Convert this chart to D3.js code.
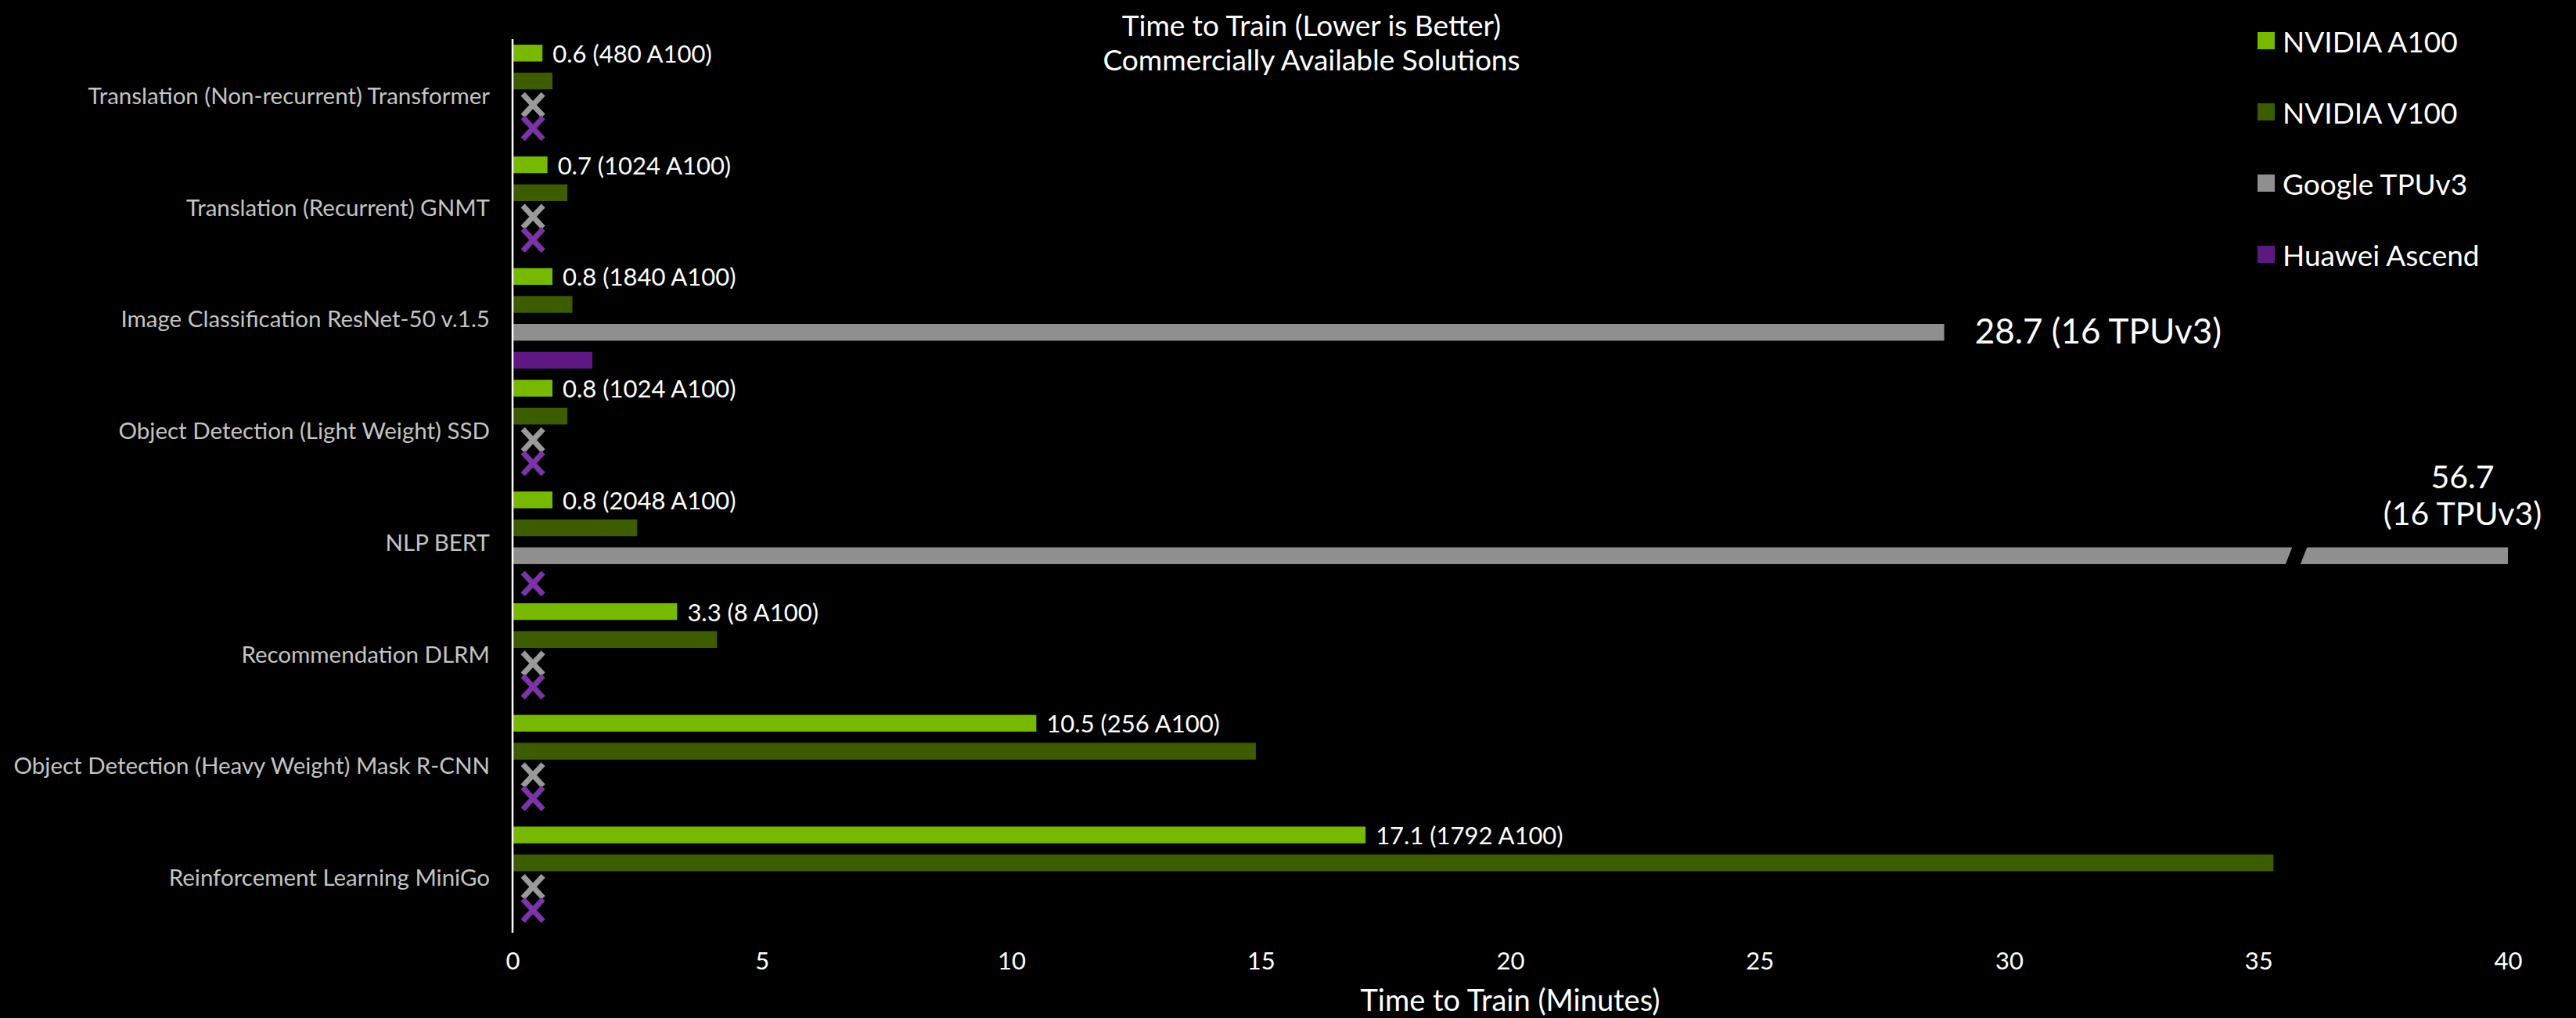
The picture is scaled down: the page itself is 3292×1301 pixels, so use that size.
<!DOCTYPE html>
<html>
<head>
<meta charset="utf-8">
<script src="https://cdn.jsdelivr.net/npm/d3@7"></script>
<style>
  html, body { margin: 0; padding: 0; background: #000; }
  svg { display: block; font-family: Lato, 'Open Sans', sans-serif; }
</style>
</head>
<body>
<svg id="chart"></svg>
<script>
// chart data
const categories = [
  'Translation (Non-recurrent) Transformer',
  'Translation (Recurrent) GNMT',
  'Image Classification ResNet-50 v.1.5',
  'Object Detection (Light Weight) SSD',
  'NLP BERT',
  'Recommendation DLRM',
  'Object Detection (Heavy Weight) Mask R-CNN',
  'Reinforcement Learning MiniGo'
];
const seriesNames = ['NVIDIA A100', 'NVIDIA V100', 'Google TPUv3', 'Huawei Ascend'];
const a100 = [0.6, 0.7, 0.8, 0.8, 0.8, 3.3, 10.5, 17.1];
const a100Chips = [480, 1024, 1840, 1024, 2048, 8, 256, 1792];
const v100 = [0.8, 1.1, 1.2, 1.1, 2.5, 4.1, 14.9, 35.3];
const tpu = [null, null, 28.7, null, 56.7, null, null, null];
const tpuChips = [null, null, 16, null, 16, null, null, null];
const huawei = [null, null, 1.6, null, null, null, null, null];
const xTicks = [0, 5, 10, 15, 20, 25, 30, 35, 40];
const xMax = 40;
const breakAt = 35.75; // where the clipped bar gets its break mark

const colors = {
  'NVIDIA A100': '#76b900',
  'NVIDIA V100': '#3d5c00',
  'Google TPUv3': '#8f8f8f',
  'Huawei Ascend': '#5e1882'
};
const missColors = { 'Google TPUv3': '#9a9a9a', 'Huawei Ascend': '#7b34a8' };

const W = 3292, H = 1301;
const plot = { left: 655, right: 3205, top: 50, bottom: 1192 };

const svg = d3.select('#chart').attr('width', W).attr('height', H);
svg.append('rect').attr('width', W).attr('height', H).attr('fill', '#000');

const x = d3.scaleLinear().domain([0, xMax]).range([plot.left, plot.right]);
const y0 = d3.scaleBand().domain(categories).range([plot.top, plot.bottom]);
const y1 = d3.scaleBand().domain(seriesNames).range([0, y0.bandwidth()])
  .paddingInner(0.4).paddingOuter(0.2);

// flatten into rows
const rows = [];
categories.forEach((c, i) => {
  rows.push({ cat: c, s: 'NVIDIA A100', v: a100[i], label: `${a100[i]} (${a100Chips[i]} A100)` });
  rows.push({ cat: c, s: 'NVIDIA V100', v: v100[i] });
  rows.push({ cat: c, s: 'Google TPUv3', v: tpu[i], label: tpu[i] ? `${tpu[i]} (${tpuChips[i]} TPUv3)` : null, both: tpu[i] == null && huawei[i] == null });
  rows.push({ cat: c, s: 'Huawei Ascend', v: huawei[i], both: tpu[i] == null && huawei[i] == null });
});

const bars = rows.filter(d => d.v != null);
const misses = rows.filter(d => d.v == null);

const barY = d => y0(d.cat) + y1(d.s);

svg.append('g').selectAll('rect')
  .data(bars)
  .enter()
  .append('rect')
  .attr('x', x(0))
  .attr('y', barY)
  .attr('width', d => x(Math.min(d.v, xMax)) - x(0))
  .attr('height', y1.bandwidth())
  .attr('fill', d => colors[d.s]);

// break mark on clipped bars
bars.filter(d => d.v > xMax).forEach(d => {
  const cx = x(breakAt);
  const t = barY(d) - 2, b = barY(d) + y1.bandwidth() + 2;
  svg.append('polygon')
    .attr('points', `${cx - 4},${t} ${cx + 15},${t} ${cx + 5},${b} ${cx - 14},${b}`)
    .attr('fill', '#000');
});

// A100 value labels
svg.append('g').selectAll('text')
  .data(bars.filter(d => d.s === 'NVIDIA A100'))
  .enter()
  .append('text')
  .attr('x', d => x(d.v) + 13)
  .attr('y', d => barY(d) + y1.bandwidth() / 2)
  .attr('dominant-baseline', 'central')
  .attr('fill', '#fff')
  .attr('font-size', 31)
  .text(d => d.label);

// TPU value labels
bars.filter(d => d.s === 'Google TPUv3').forEach(d => {
  if (d.v <= xMax) {
    svg.append('text')
      .attr('x', x(d.v) + 39)
      .attr('y', barY(d) + y1.bandwidth() / 2 - 3)
      .attr('dominant-baseline', 'central')
      .attr('fill', '#fff')
      .attr('font-size', 44)
      .text(d.label);
  } else {
    const [num, rest] = [String(d.v), d.label.slice(String(d.v).length + 1)];
    const t = svg.append('text')
      .attr('x', x(xMax) - 58)
      .attr('y', barY(d) - 76)
      .attr('text-anchor', 'middle')
      .attr('fill', '#fff')
      .attr('font-size', 41);
    t.append('tspan').attr('x', x(xMax) - 58).text(num);
    t.append('tspan').attr('x', x(xMax) - 58).attr('dy', 47).text(rest);
  }
});

// "X" marks for missing submissions
const xMark = svg.append('g');
misses.forEach(d => {
  let cy = barY(d) + y1.bandwidth() / 2;
  if (d.both) cy -= d.s === 'Google TPUv3' ? 5 : 11;
  const cx = x(0.41), hw = 13, hh = 14;
  xMark.append('path')
    .attr('d', `M${cx - hw},${cy - hh}L${cx + hw},${cy + hh}M${cx + hw},${cy - hh}L${cx - hw},${cy + hh}`)
    .attr('stroke', missColors[d.s])
    .attr('stroke-width', 7)
    .attr('fill', 'none');
});

// category labels
svg.append('g').selectAll('text')
  .data(categories)
  .enter()
  .append('text')
  .attr('x', plot.left - 29)
  .attr('y', d => y0(d) + y0.bandwidth() / 2)
  .attr('text-anchor', 'end')
  .attr('dominant-baseline', 'central')
  .attr('fill', '#c4c4c4')
  .attr('font-size', 29.5)
  .text(d => d);

// vertical axis line
svg.append('line')
  .attr('x1', plot.left).attr('x2', plot.left)
  .attr('y1', plot.top).attr('y2', plot.bottom)
  .attr('stroke', '#fff').attr('stroke-width', 2.5);

// x tick labels
const xAxis = svg.append('g')
  .attr('transform', `translate(0,${plot.bottom})`)
  .call(d3.axisBottom(x).tickValues(xTicks).tickSize(0).tickPadding(25));
xAxis.select('.domain').remove();
xAxis.selectAll('text')
  .attr('fill', '#fff')
  .attr('font-size', 31)
  .attr('font-family', 'Lato, sans-serif');

svg.append('text')
  .attr('x', (plot.left + plot.right) / 2)
  .attr('y', 1292)
  .attr('text-anchor', 'middle')
  .attr('fill', '#fff')
  .attr('font-size', 38)
  .text('Time to Train (Minutes)');

// title
const title = svg.append('text')
  .attr('text-anchor', 'middle')
  .attr('fill', '#fff')
  .attr('font-size', 37);
title.append('tspan').attr('x', 1676).attr('y', 46).text('Time to Train (Lower is Better)');
title.append('tspan').attr('x', 1676).attr('y', 90).text('Commercially Available Solutions');

// legend
const legend = svg.append('g').attr('transform', 'translate(2885, 52)');
const li = legend.selectAll('g')
  .data(seriesNames)
  .enter()
  .append('g')
  .attr('transform', (d, i) => `translate(0, ${i * 91})`);
li.append('rect')
  .attr('y', -11)
  .attr('width', 22)
  .attr('height', 22)
  .attr('fill', d => colors[d]);
li.append('text')
  .attr('x', 32)
  .attr('dominant-baseline', 'central')
  .attr('fill', '#fff')
  .attr('font-size', 37)
  .text(d => d);
</script>
</body>
</html>
